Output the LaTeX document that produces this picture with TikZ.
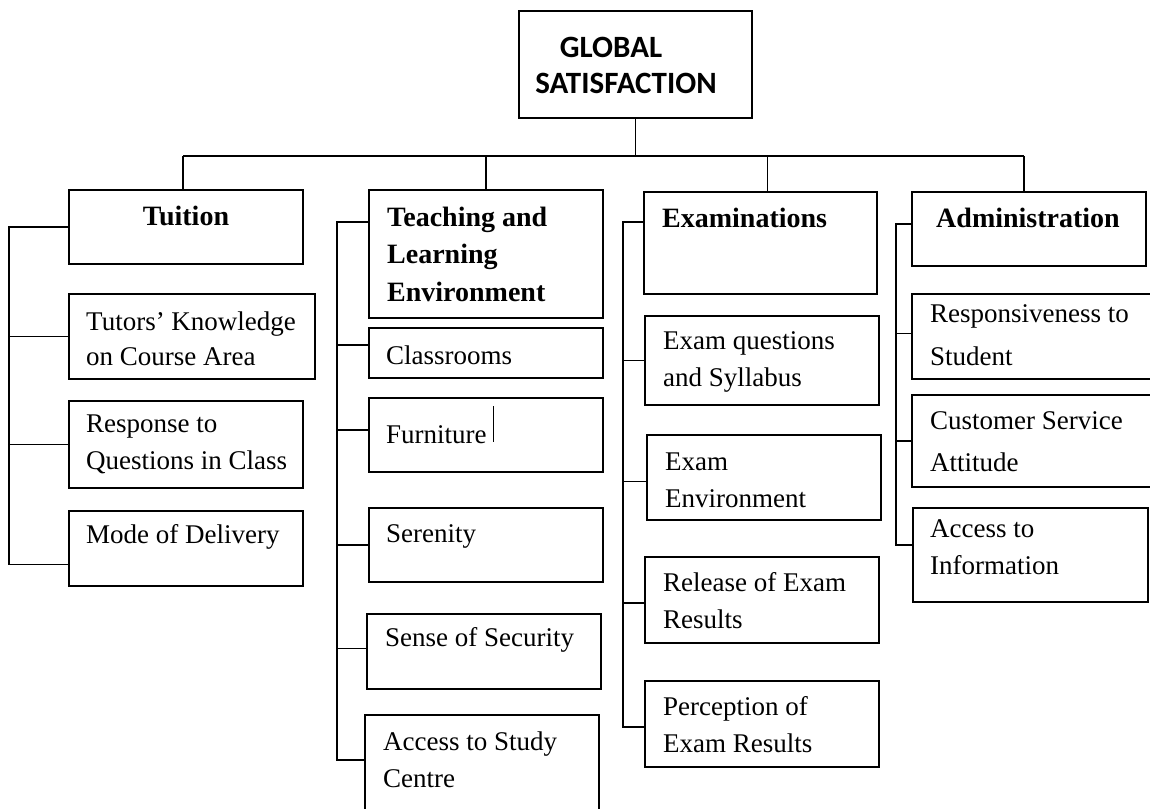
\documentclass[tikz,border=0pt]{standalone}
\usepackage{fontspec}
\setmainfont{Liberation Serif}
\newfontfamily\calibri{Carlito}
\usepackage{tikz}
\pgfdeclarelayer{bg}
\pgfsetlayers{bg,main}
\tikzset{
  box/.style={draw, line width=1.6pt, inner sep=0pt, anchor=north west},
  head/.style={inner sep=0pt, anchor=base west, align=left, font=\bfseries\fontsize{28}{37.5}\selectfont},
  item/.style={inner sep=0pt, anchor=base west, align=left, font=\fontsize{27}{37}\selectfont},
  link/.style={line width=1.6pt},
}
\begin{document}
\begin{tikzpicture}[x=1pt, y=-1pt]
        \useasboundingbox (0,0) rectangle (1150,808);
        \clip (0,0) rectangle (1150,808);
        % top of the tree (text nodes sit on the baseline of their last line)
        \node[box, minimum width=233pt, minimum height=107pt] (top) at (518,10) {};
        \node[inner sep=0pt, anchor=base, align=center, font=\calibri\bfseries\fontsize{31}{36}\selectfont] (topt) at (626,93) {GLOBAL\hspace*{30pt}\\SATISFACTION};
        % the four dimensions
        \node[box, minimum width=234pt, minimum height=74pt] (tui) at (68,189) {};
        \node[head, anchor=base] (tuit) at (186,225) {Tuition};
        \node[box, minimum width=234pt, minimum height=128pt] (tea) at (368,189) {};
        \node[head] (teat) at (387,301) {Teaching and\\Learning\\Environment};
        \node[box, minimum width=233pt, minimum height=102pt] (exa) at (643,191) {};
        \node[head] (exat) at (662,227) {Examinations};
        \node[box, minimum width=234pt, minimum height=74pt] (adm) at (911,191) {};
        \node[head, anchor=base] (admt) at (1028,227) {Administration};
        % tuition
        \node[box, minimum width=246pt, minimum height=85pt] (tut1) at (68,293) {};
        \node[item] (tut1t) at (86,365) {Tutors' Knowledge\\[-2pt]on Course Area};
        \node[box, minimum width=234pt, minimum height=87pt] (tut2) at (68,400) {};
        \node[item] (tut2t) at (86,469) {Response to\\Questions in Class};
        \node[box, minimum width=234pt, minimum height=75pt] (tut3) at (68,510) {};
        \node[item] (tut3t) at (86,543) {Mode of Delivery};
        % teaching and learning environment
        \node[box, minimum width=234pt, minimum height=50pt] (cls) at (368,327) {};
        \node[item] (clst) at (386,364) {Classrooms};
        \node[box, minimum width=234pt, minimum height=74pt] (fur) at (368,397) {};
        \node[item] (furt) at (386,443) {Furniture};
        \node[box, minimum width=234pt, minimum height=74pt] (ser) at (368,507) {};
        \node[item] (sert) at (386,542) {Serenity};
        \node[box, minimum width=234pt, minimum height=75pt] (sec) at (366,613) {};
        \node[item] (sect) at (385,646) {Sense of Security};
        \node[box, minimum width=234pt, minimum height=130pt] (acc) at (364,714) {};
        \node[item] (acct) at (383,787) {Access to Study\\Centre};
        \draw[line width=1pt] (493,406) -- (493,442);
        % examinations
        \node[box, minimum width=234pt, minimum height=89pt] (eq) at (644,315) {};
        \node[item] (eqt) at (663,386) {Exam questions\\and Syllabus};
        \node[box, minimum width=234pt, minimum height=85pt] (env) at (646,434) {};
        \node[item] (envt) at (665,507) {Exam\\Environment};
        \node[box, minimum width=234pt, minimum height=86pt] (rel) at (644,556) {};
        \node[item] (relt) at (663,628) {Release of Exam\\Results};
        \node[box, minimum width=234pt, minimum height=86pt] (per) at (644,680) {};
        \node[item] (pert) at (663,752) {Perception of\\Exam Results};
        % administration
        \node[box, minimum width=250pt, minimum height=85pt] (res) at (911,293) {};
        \node[item] (rest) at (930,365) {Responsiveness to\\[6pt]Student};
        \node[box, minimum width=250pt, minimum height=92pt] (cus) at (911,394) {};
        \node[item] (cust) at (930,471) {Customer Service\\[5pt]Attitude};
        \node[box, minimum width=235pt, minimum height=94pt] (inf) at (912,507) {};
        \node[item] (inft) at (930,574) {Access to\\Information};
        \coordinate (busL) at (183,156);
        \coordinate (busR) at (1024,156);
        \coordinate (tuis) at (9,0);
        \coordinate (teas) at (337,0);
        \coordinate (exas) at (623,0);
        \coordinate (adms) at (896,0);
        \begin{pgfonlayer}{bg}
                \draw[link] (top.south) -- (top.south |- busL);
                \draw[link] (busL) -- (busR);
                \draw[link] (busL) -- (busL |- tui.north);
                \draw[link] (tea.north |- busL) -- (tea.north);
                \draw[link] ([xshift=7pt]exa.north |- busL) -- ([xshift=7pt]exa.north);
                \draw[link] (busR) -- (busR |- adm.north);
                \draw[link] (tui.west) -| ([yshift=-16pt]tut3.west -| tuis) -- ([yshift=-16pt]tut3.west);
                \draw[link] (tut1.west) -- (tut1.west -| tuis);
                \draw[link] (tut2.west) -- (tut2.west -| tuis);
                \draw[link] ([yshift=-33pt]tea.north west) -| ([yshift=-46pt]acc.north west -| teas) -- ([yshift=-46pt]acc.north west);
                \draw[link] ([yshift=8pt]cls.west) -- ([yshift=8pt]cls.west -| teas);
                \draw[link] ([yshift=5pt]fur.west) -- ([yshift=5pt]fur.west -| teas);
                \draw[link] (ser.west) -- (ser.west -| teas);
                \draw[link] ([yshift=3pt]sec.west) -- ([yshift=3pt]sec.west -| teas);
                \draw[link] ([yshift=-31pt]exa.north west) -| ([yshift=-3pt]per.west -| exas) -- ([yshift=-3pt]per.west);
                \draw[link] (eq.west) -- (eq.west -| exas);
                \draw[link] ([yshift=-4pt]env.west) -- ([yshift=-4pt]env.west -| exas);
                \draw[link] ([yshift=-3pt]rel.west) -- ([yshift=-3pt]rel.west -| exas);
                \draw[link] ([yshift=5pt]adm.west) -| ([yshift=10pt]inf.west -| adms) -- ([yshift=10pt]inf.west);
                \draw[link] ([yshift=3pt]res.west) -- ([yshift=3pt]res.west -| adms);
                \draw[link] (cus.west) -- (cus.west -| adms);
        \end{pgfonlayer}
\end{tikzpicture}
\end{document}
